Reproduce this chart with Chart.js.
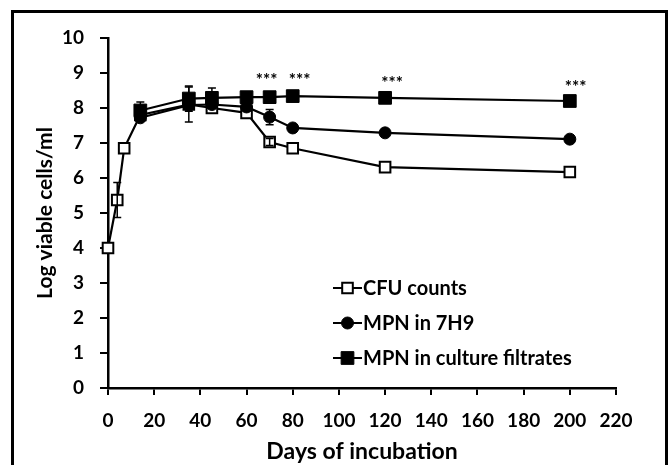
<!DOCTYPE html>
<html>
<head>
<meta charset="utf-8">
<script src="https://cdn.jsdelivr.net/npm/chart.js@4.4.1/dist/chart.umd.min.js"></script>
<style>
  html,body{margin:0;padding:0;background:#fff;}
  #wrap{position:relative;width:671px;height:465px;overflow:hidden;}
  #frame{position:absolute;left:11px;top:10px;width:657px;height:470px;border:3px solid #000;box-sizing:border-box;pointer-events:none;}
  canvas{position:absolute;left:0;top:0;}
</style>
</head>
<body>
<div id="wrap">
  <canvas id="chart" width="671" height="465"></canvas>
  <div id="frame"></div>
</div>
<script>
// ========== Data ==========
const cfuDays = [0, 4, 7, 14, 35, 45, 60, 70, 80, 120, 200];
const cfuValues = [4.0, 5.37, 6.85, 7.8, 8.1, 8.0, 7.86, 7.03, 6.85, 6.31, 6.17];
const cfuErrors = [0, 0.5, 0, 0.1, 0.5, 0, 0, 0.1, 0, 0, 0];

const mpnDays = [14, 35, 45, 60, 70, 80, 120, 200];
const mpn7h9Values = [7.72, 8.08, 8.1, 8.03, 7.74, 7.43, 7.29, 7.11];
const mpn7h9Errors = [0.1, 0, 0, 0, 0.22, 0, 0, 0];
const mpnFiltrateValues = [7.93, 8.27, 8.29, 8.31, 8.31, 8.34, 8.29, 8.2];
const mpnFiltrateErrors = [0.24, 0.36, 0.28, 0, 0, 0, 0, 0];

// significance marks (where they sit on the day / value axes)
const sigDays = [68.7, 83, 123, 202.5];
const sigLevels = [8.9, 8.9, 8.82, 8.7];
const sigLabel = '***';

const xTicks = [0, 20, 40, 60, 80, 100, 120, 140, 160, 180, 200, 220];
const yTicks = [0, 1, 2, 3, 4, 5, 6, 7, 8, 9, 10];

const seriesNames = ['CFU counts', 'MPN in 7H9', 'MPN in culture filtrates'];

const FONT = 'Lato, "Open Sans", sans-serif';

function toPoints(days, vals){ return days.map((d,i)=>({x:d, y:vals[i]})); }

// ========== Plugins ==========
const errorBars = {
  id:'errorBars',
  afterDatasetsDraw(chart){
    const ctx = chart.ctx, ys = chart.scales.y;
    ctx.save();
    ctx.strokeStyle = '#000';
    ctx.lineWidth = 1.5;
    chart.data.datasets.forEach((ds,di)=>{
      const meta = chart.getDatasetMeta(di);
      (ds.errors||[]).forEach((e,i)=>{
        if(!e) return;
        const p = meta.data[i];
        const top = ys.getPixelForValue(ds.data[i].y + e);
        const bot = ys.getPixelForValue(ds.data[i].y - e);
        ctx.beginPath();
        ctx.moveTo(p.x, top); ctx.lineTo(p.x, bot);
        ctx.moveTo(p.x-4, top); ctx.lineTo(p.x+4, top);
        ctx.moveTo(p.x-4, bot); ctx.lineTo(p.x+4, bot);
        ctx.stroke();
      });
    });
    ctx.restore();
  }
};

const stars = {
  id:'stars',
  afterDatasetsDraw(chart){
    const ctx = chart.ctx, xs = chart.scales.x, ys = chart.scales.y;
    ctx.save();
    ctx.fillStyle = '#000';
    ctx.font = 'bold 17px ' + FONT;
    ctx.textAlign = 'center';
    ctx.textBaseline = 'middle';
    sigDays.forEach((d,i)=>{
      ctx.fillText(sigLabel, xs.getPixelForValue(d), ys.getPixelForValue(sigLevels[i]) + 4);
    });
    ctx.restore();
  }
};

const insideLegend = {
  id:'insideLegend',
  afterDraw(chart){
    const ctx = chart.ctx;
    const x0 = 333, y0 = 288, gap = 35;
    ctx.save();
    ctx.font = 'bold 20px ' + FONT;
    ctx.textBaseline = 'middle';
    seriesNames.forEach((name,i)=>{
      const ds = chart.data.datasets.find(d=>d.label===name);
      const y = y0 + i*gap;
      ctx.strokeStyle = '#000';
      ctx.lineWidth = 2;
      ctx.beginPath(); ctx.moveTo(x0, y); ctx.lineTo(x0+29, y); ctx.stroke();
      ctx.fillStyle = ds.pointBackgroundColor;
      ctx.lineWidth = ds.pointBorderWidth;
      Chart.helpers.drawPoint(ctx, {pointStyle:ds.pointStyle, radius:ds.pointRadius, borderWidth:ds.pointBorderWidth}, x0+14.5, y);
      ctx.fillStyle = '#000';
      ctx.fillText(name, x0+30, y+1);
    });
    ctx.restore();
  }
};

// ========== Chart ==========
const ctx = document.getElementById('chart').getContext('2d');
new Chart(ctx,{
  type:'line',
  data:{
    datasets:[
      {label:seriesNames[0], data:toPoints(cfuDays,cfuValues), errors:cfuErrors, order:3, clip:false,
       borderColor:'#000', borderWidth:2.2, pointStyle:'rect', pointRadius:7.5,
       pointBackgroundColor:'#fff', pointBorderColor:'#000', pointBorderWidth:2},
      {label:seriesNames[1], data:toPoints(mpnDays,mpn7h9Values), errors:mpn7h9Errors, order:2, clip:false,
       borderColor:'#000', borderWidth:2.2, pointStyle:'circle', pointRadius:6,
       pointBackgroundColor:'#000', pointBorderColor:'#000', pointBorderWidth:1},
      {label:seriesNames[2], data:toPoints(mpnDays,mpnFiltrateValues), errors:mpnFiltrateErrors, order:1, clip:false,
       borderColor:'#000', borderWidth:2.2, pointStyle:'rect', pointRadius:9,
       pointBackgroundColor:'#000', pointBorderColor:'#000', pointBorderWidth:1}
    ]
  },
  options:{
    responsive:false,
    animation:false,
    events:[],
    layout:{padding:{left:0, top:38, right:55, bottom:0}},
    plugins:{legend:{display:false}, tooltip:{enabled:false}},
    scales:{
      x:{
        type:'linear', min:0, max:220,
        afterBuildTicks(s){ s.ticks = xTicks.map(v=>({value:v})); },
        afterFit(s){ s.height = 77; },
        grid:{drawOnChartArea:false, drawTicks:true, tickLength:7, color:'#000', lineWidth:2},
        border:{color:'#000', width:2.5},
        ticks:{color:'#000', font:{family:FONT, size:19, weight:'bold'}, padding:14, maxRotation:0},
        title:{display:true, text:'Days of incubation', color:'#000', font:{family:FONT, size:23, weight:'bold'}, padding:{top:0, bottom:0}}
      },
      y:{
        min:0, max:10,
        afterBuildTicks(s){ s.ticks = yTicks.map(v=>({value:v})); },
        afterFit(s){ s.width = 108; },
        grid:{drawOnChartArea:false, drawTicks:true, tickLength:8, color:'#000', lineWidth:2},
        border:{color:'#000', width:2.5},
        ticks:{color:'#000', font:{family:FONT, size:19, weight:'bold'}, padding:16},
        title:{display:true, text:'Log viable cells/ml', color:'#000', font:{family:FONT, size:21, weight:'bold'}, padding:{top:33, bottom:0}}
      }
    }
  },
  plugins:[errorBars, stars, insideLegend]
});
</script>
</body>
</html>
